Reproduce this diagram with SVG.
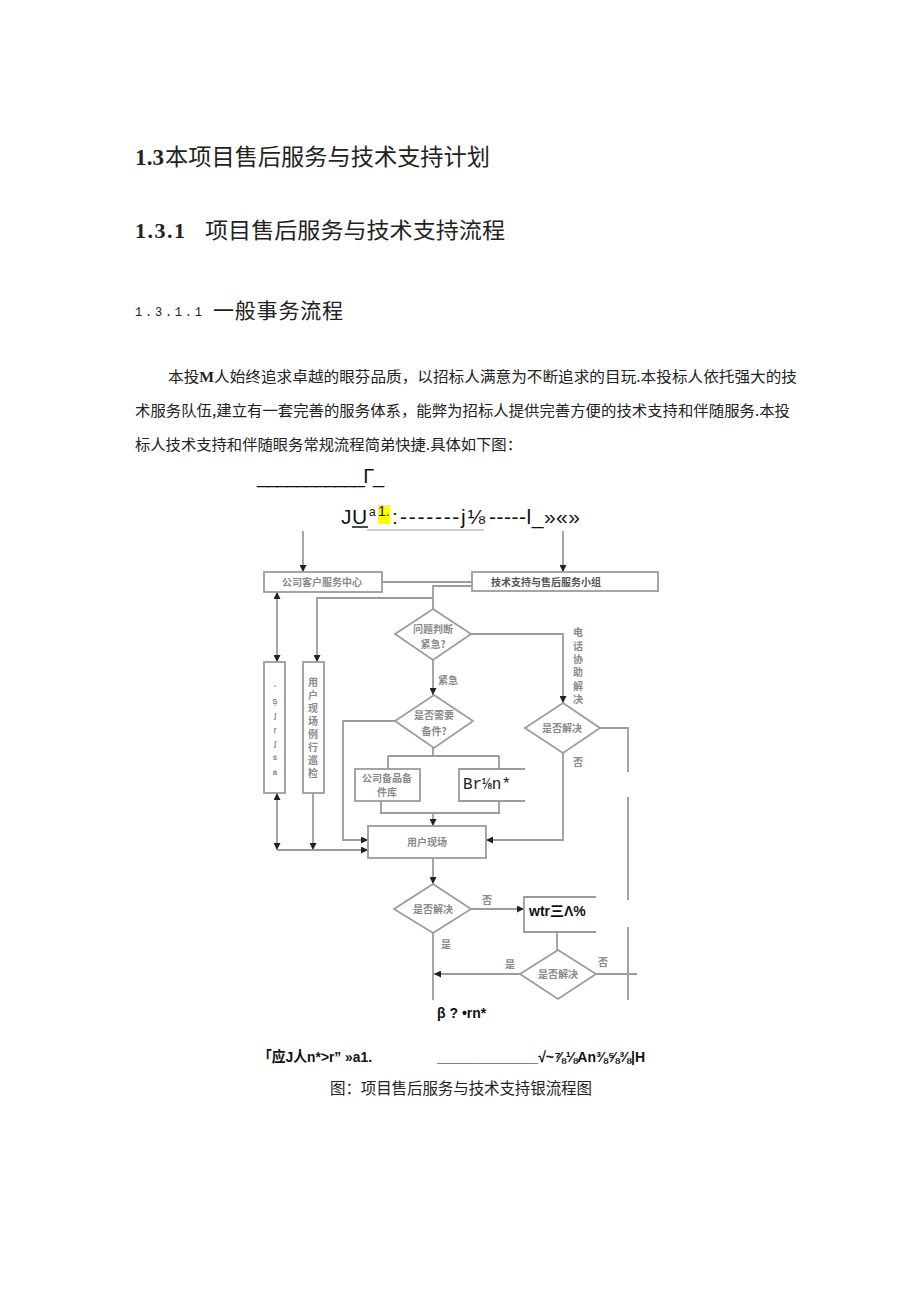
<svg xmlns="http://www.w3.org/2000/svg" width="920" height="1301" viewBox="0 0 920 1301">
<defs>
<marker id="ah" viewBox="0 0 8 8" refX="8" refY="4" markerWidth="7" markerHeight="7" markerUnits="userSpaceOnUse" orient="auto-start-reverse">
<path d="M0,0 L8,4 L0,8 z" fill="#222"/>
</marker>
<style>
.cjk{font-family:"Noto Sans CJK SC","Liberation Sans",sans-serif;fill:#222}
.ser{font-family:"Liberation Serif",serif;font-weight:700;fill:#222}
.mono{font-family:"Liberation Mono",monospace;fill:#222}
.bold{font-family:"Liberation Sans","Noto Sans CJK SC",sans-serif;font-weight:700;fill:#111}
.node{fill:#fff;stroke:#9c9c9c;stroke-width:1.8}
.ct{font-family:"Noto Sans CJK SC",sans-serif;font-size:10px;font-weight:700;fill:#8a8a8a;text-anchor:middle}
.gl{font-family:"Liberation Sans",sans-serif;font-size:8px;font-weight:700;fill:#8a8a8a;text-anchor:middle}
.con path{fill:none;stroke:#9c9c9c;stroke-width:1.8}
.arr{marker-end:url(#ah)}
</style>
</defs>
<rect width="920" height="1301" fill="#fff"/>

<!-- headings -->
<text x="135" y="165" font-size="23"><tspan class="ser" textLength="29">1.3</tspan><tspan class="cjk" x="165" textLength="325" lengthAdjust="spacingAndGlyphs">本项目售后服务与技术支持计划</tspan></text>
<text x="135" y="238" font-size="22"><tspan class="ser" textLength="50">1.3.1</tspan><tspan class="cjk" x="205" textLength="300" lengthAdjust="spacingAndGlyphs">项目售后服务与技术支持流程</tspan></text>
<text class="mono" x="135" y="316" font-size="12" textLength="67">1.3.1.1</text>
<text class="cjk" x="213" y="318" font-size="21" textLength="130">一般事务流程</text>

<!-- paragraph -->
<g class="cjk" font-size="15">
<text x="168" y="382" textLength="629" lengthAdjust="spacingAndGlyphs">本投<tspan font-weight="700" font-family="Liberation Serif">M</tspan>人始终追求卓越的眼芬品质，以招标人满意为不断追求的目玩.本投标人依托强大的技</text>
<text x="135" y="416" textLength="655" lengthAdjust="spacingAndGlyphs">术服务队伍,建立有一套完善的服务体系，能弊为招标人提供完善方便的技术支持和伴随服务.本投</text>
<text x="135" y="450" textLength="387" lengthAdjust="spacingAndGlyphs">标人技术支持和伴随眼务常规流程简弟快捷.具体如下图：</text>
</g>

<!-- garbled header lines -->
<text x="257" y="483" font-family="Liberation Sans,sans-serif" font-size="20" fill="#111" textLength="127">___________Γ_</text>
<rect x="378" y="505" width="12" height="19" fill="#ffff00"/>
<text font-family="Liberation Sans,sans-serif" font-size="21" fill="#111" y="524">
<tspan x="341">J</tspan><tspan x="352">U</tspan><tspan x="369" y="516" font-size="12">a</tspan><tspan x="378" y="516" font-size="14">1.</tspan><tspan x="392" y="524">:</tspan><tspan x="400" textLength="85">-------j⅛</tspan><tspan x="489" textLength="91">-----l_»«»</tspan>
</text>
<line x1="352" y1="527" x2="368" y2="527" stroke="#111" stroke-width="1.5"/>
<line x1="367" y1="530" x2="484" y2="530" stroke="#bbb" stroke-width="1.5"/>

<!-- connectors -->
<g class="con" id="connectors">
<path class="arr" d="M303 531 V572"/>
<path class="arr" d="M563 531 V572"/>
<path d="M382 582 H472"/>
<path d="M472 586 H433 V609"/>
<path class="arr" d="M433 598 H317 V662"/>
<path class="arr" d="M277 662 V592" style="marker-start:url(#ah)"/>
<path class="arr" d="M470 634 H563 V703"/>
<path class="arr" d="M433 660 V695"/>
<path class="arr" d="M395 721 H343 V840 H368"/>
<path d="M433 748 V756 M388 756 H499 M388 756 V769 M499 756 V769"/>
<path d="M381 801 V813 H499 V801"/>
<path class="arr" d="M433 813 V826"/>
<path class="arr" d="M277 850 V793" style="marker-start:url(#ah)"/>
<path d="M277 850 H313"/>
<path class="arr" d="M313 793 V850"/>
<path class="arr" d="M313 850 H368"/>
<path class="arr" d="M563 753 V840 H486"/>
<path d="M600 728 H628 V772 M628 797 V900 M628 927 V1000"/>
<path class="arr" d="M433 858 V884"/>
<path class="arr" d="M471 909 H524"/>
<path d="M557 932 V950"/>
<path class="arr" d="M520 974 H434"/>
<path d="M596 974 H637"/>
<path d="M433 933 V1000"/>
</g>

<!-- connector labels -->
<g class="ct">
<text x="448" y="684">紧急</text>
<text x="578" y="766">否</text>
<text x="487" y="904">否</text>
<text x="446" y="948">是</text>
<text x="510" y="968">是</text>
<text x="603" y="966">否</text>
<text x="578" y="636">电</text>
<text x="578" y="650">话</text>
<text x="578" y="663">协</text>
<text x="578" y="676">助</text>
<text x="578" y="690">解</text>
<text x="578" y="703">决</text>
</g>

<!-- nodes -->
<g id="n-service-center">
<rect class="node" x="264" y="572" width="118" height="20"/>
<text class="ct" x="322" y="586">公司客户服务中心</text>
</g>
<g id="n-tech-group">
<rect class="node" x="472" y="572" width="186" height="19"/>
<text class="ct" x="546" y="586" style="fill:#555">技术支持与售后服务小组</text>
</g>
<g id="n-left-box">
<rect class="node" x="264" y="662" width="21" height="131"/>
<text class="gl" x="275" y="690">ʻ</text>
<text class="gl" x="275" y="704">Ş</text>
<text class="gl" x="275" y="718">ʃ</text>
<text class="gl" x="275" y="732">ŗ</text>
<text class="gl" x="275" y="746">ʃ</text>
<text class="gl" x="275" y="760">ŝ</text>
<text class="gl" x="275" y="775">ä</text>
</g>
<g id="n-inspection">
<rect class="node" x="303" y="662" width="21" height="131"/>
<text class="ct" x="313" y="686">用</text>
<text class="ct" x="313" y="699">户</text>
<text class="ct" x="313" y="712">现</text>
<text class="ct" x="313" y="725">场</text>
<text class="ct" x="313" y="738">例</text>
<text class="ct" x="313" y="751">行</text>
<text class="ct" x="313" y="764">巡</text>
<text class="ct" x="313" y="777">检</text>
</g>
<g id="n-d1">
<polygon class="node" points="433,609 471,634 433,660 395,634"/>
<text class="ct" x="433" y="633">问题判断</text>
<text class="ct" x="433" y="648">紧急?</text>
</g>
<g id="n-d2">
<polygon class="node" points="434,695 473,721 434,748 395,721"/>
<text class="ct" x="434" y="719">是否需要</text>
<text class="ct" x="434" y="735">备件?</text>
</g>
<g id="n-d3">
<polygon class="node" points="563,703 600,728 563,753 525,728"/>
<text class="ct" x="562" y="732">是否解决</text>
</g>
<g id="n-spares">
<rect class="node" x="355" y="769" width="65" height="32"/>
<text class="ct" x="387" y="782">公司备品备</text>
<text class="ct" x="387" y="796">件库</text>
</g>
<g id="n-br">
<path d="M525 769 H459 V801 H525" fill="#fff" stroke="#9c9c9c" stroke-width="1.8"/>
<text x="463" y="789" font-family="Liberation Mono,monospace" font-size="16" fill="#222">Br⅛n*</text>
</g>
<g id="n-site">
<rect class="node" x="368" y="826" width="118" height="32"/>
<text class="ct" x="427" y="846">用户现场</text>
</g>
<g id="n-d4">
<polygon class="node" points="433,884 471,909 433,933 394,909"/>
<text class="ct" x="433" y="913">是否解决</text>
</g>
<g id="n-wtr">
<path d="M596 897 H524 V932 H596" fill="#fff" stroke="#9c9c9c" stroke-width="1.8"/>
<text x="529" y="916" font-family="Liberation Sans,'Noto Sans CJK SC',sans-serif" font-weight="700" font-size="14" fill="#111">wtr三Λ%</text>
</g>
<g id="n-d5">
<polygon class="node" points="558,950 596,974 558,999 520,974"/>
<text class="ct" x="558" y="978">是否解决</text>
</g>

<!-- footer texts -->
<text class="bold" x="437" y="1018" font-size="14">β ? •rn*</text>
<text class="bold" x="258" y="1062" font-size="15" textLength="114" lengthAdjust="spacingAndGlyphs">「应J人n*&gt;r” »a1.</text>
<text class="bold" x="437" y="1062" font-size="15" textLength="208" lengthAdjust="spacingAndGlyphs">_____________√~⅞⅛An⅜⅝⅜|H</text>
<text class="cjk" x="330" y="1094" font-size="15.5" textLength="262">图：项目售后服务与技术支持银流程图</text>
</svg>
